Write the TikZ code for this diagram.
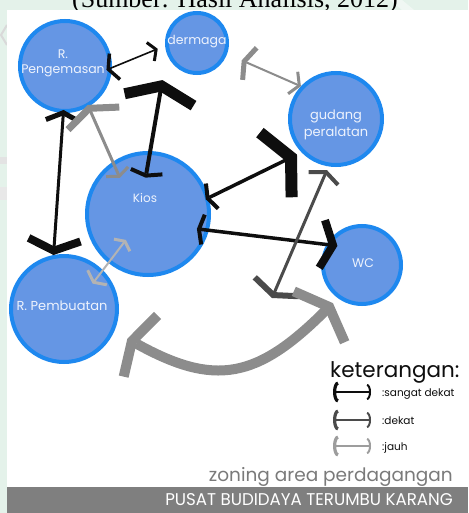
\documentclass[tikz,border=0pt]{standalone}
\usepackage{fontspec}
\setmainfont{Poppins}
\newfontfamily\capfont{Liberation Serif}
\usetikzlibrary{arrows.meta}

\definecolor{mint}{HTML}{E4F2EA}
\definecolor{zonefill}{HTML}{6596E4}
\definecolor{zoneedge}{HTML}{1E88EF}
\definecolor{ink}{HTML}{0E0E0E}
\definecolor{midgray}{HTML}{4B4B4B}
\definecolor{farcol}{HTML}{8C8C8C}
\definecolor{palegray}{HTML}{B3B3B3}
\definecolor{barcol}{HTML}{7F7F7F}
\definecolor{titlegray}{HTML}{7A7A7A}
\definecolor{zonetext}{HTML}{EEF3FD}

\begin{document}
\begin{tikzpicture}[x=1pt,y=-1pt,
  zone/.style={circle,draw=zoneedge,fill=zonefill,line width=4pt,inner sep=0pt,minimum size=#1},
  zlabel/.style={text=zonetext,font=\fontsize{12}{15}\selectfont,align=center,inner sep=0pt},
  link/.style={line width=#1},
  barbs/.style n args={6}{arrows={Straight Barb[length=#1,width=#2,line width=#3,sharp]-Straight Barb[length=#4,width=#5,line width=#6,sharp]}},
  keyarrow/.style={arrows={Arc Barb[length=5pt,width=21pt,line width=3.2pt]-Arc Barb[length=4pt,width=16pt,line width=2pt]},line width=1.5pt},
  keytext/.style={anchor=base west,inner sep=0pt,font=\fontsize{10.5}{12}\selectfont,text=ink}
]
\useasboundingbox (0,0) rectangle (468,513);
\clip (0,0) rectangle (468,513);

% page margin with faint watermark
\fill[mint] (0,0) rectangle (468,513);
\fill[white,opacity=0.45] (390,0) -- (402,0) -- (414,10) -- (402,10) -- cycle;
\draw[gray!30,line width=2pt] (7,25) -- (1,35) -- (7,45);
\fill[gray!22] (0,157) rectangle (7,164);
\fill[gray!18] (0,187) rectangle (7,200);
\node[anchor=base,inner sep=0pt,font=\capfont\fontsize{26}{30}\selectfont] (caption) at (235,7.5) {(Sumber: Hasil Analisis, 2012)};

% drawing sheet and title bar
\fill[white] (7,10) rectangle (468,487);
\fill[barcol] (7,487) rectangle (468,513);

% zones
\node[zone=90pt]  (rpeng)  at (65,66)   {};
\node[zone=60pt]  (derm)   at (197,43)  {};
\node[zone=92pt]  (gudang) at (336,119) {};
\node[zone=122pt] (kios)   at (148,214) {};
\node[zone=78pt]  (wc)     at (362,265) {};
\node[zone=106pt] (rpemb)  at (64,309)  {};

\node[zlabel,font=\fontsize{12.5}{15}\selectfont] (rpengtxt) at (63,63) {R.\\Pengemasan};
\node[zlabel,font=\fontsize{12.5}{15}\selectfont] (dermtxt) at (197,42) {dermaga};
\node[zlabel,font=\fontsize{13}{17}\selectfont] (gudangtxt) at (336,125) {gudang\\peralatan};
\node[zlabel] (kiostxt) at (145,198) {Kios};
\node[zlabel,font=\fontsize{12.5}{15}\selectfont] (wctxt) at (363,263) {WC};
\node[zlabel,font=\fontsize{13}{15}\selectfont] (rpembtxt) at (62,306) {R. Pembuatan};

% relations
\draw[ink,link=1.6pt,barbs={7pt}{28pt}{3.5pt}{6pt}{20pt}{3pt},shorten <=-6pt,shorten >=8pt]
  (rpeng.-2) -- (derm.185);
\draw[farcol,link=2pt,barbs={6pt}{35pt}{5pt}{7pt}{24pt}{3pt},shorten <=16pt]
  (derm.-20) -- (gudang.137);
\draw[ink,link=3pt,barbs={8pt}{34pt}{5pt}{11pt}{52pt}{8pt},shorten <=-3pt]
  (rpeng.-92) -- (rpemb.101.5);
\draw[farcol,link=3pt,barbs={11pt}{56pt}{7pt}{5pt}{24pt}{3pt},shorten <=-2pt,shorten >=-17.5pt]
  (rpeng.-60) -- (kios.124);
\draw[ink,link=4pt,barbs={4pt}{32pt}{4pt}{14pt}{70pt}{11pt},shorten <=-27pt,shorten >=26.5pt]
  (kios.88) -- (derm.200);
\draw[ink,link=3.5pt,barbs={5pt}{28pt}{4pt}{17pt}{72pt}{12pt},shorten <=-3.5pt,shorten >=5pt]
  (kios.15.7) -- (gudang.224);
\draw[ink,link=3.5pt,barbs={4pt}{30pt}{4pt}{11pt}{48pt}{8pt},shorten <=-12pt,shorten >=-11pt]
  (kios.-15) -- (wc.150);
\coordinate (gudangfoot) at (272,298);
\draw[midgray,link=3pt,barbs={7pt}{32pt}{4pt}{9pt}{48pt}{6pt},shorten <=4pt]
  (gudang.-99) -- (gudangfoot);
\draw[palegray,link=2pt,barbs={5pt}{20pt}{3pt}{6pt}{24pt}{3pt},shorten <=-29pt,shorten >=-17pt]
  (kios.-129) -- (rpemb.45);
\draw[farcol,link=10pt,barbs={10pt}{70pt}{10pt}{14pt}{72pt}{10pt},shorten <=15pt,shorten >=7pt]
  (rpemb.-24) to[out=-29,in=-135,looseness=1.3] (wc.-126);

% legend
\node[anchor=base west,inner sep=0pt,font=\fontsize{21.5}{24}\selectfont,text=ink] (keyhead) at (330,377) {keterangan:};
\coordinate (k1a) at (333,392); \coordinate (k1b) at (371,392);
\coordinate (k2a) at (333,420); \coordinate (k2b) at (371,420);
\coordinate (k3a) at (333,446); \coordinate (k3b) at (371,446);
\draw[keyarrow,ink] (k1a) -- (k1b);
\draw[keyarrow,midgray] (k2a) -- (k2b);
\draw[keyarrow,farcol!85] (k3a) -- (k3b);
\node[keytext] (k1t) at (382,396) {:sangat dekat};
\node[keytext] (k2t) at (382,424) {:dekat};
\node[keytext] (k3t) at (382,450) {:jauh};

% titles
\node[anchor=base east,inner sep=0pt,font=\fontsize{18.5}{20}\selectfont,text=titlegray] (zoning) at (453,481) {zoning area perdagangan};
\node[anchor=base east,inner sep=0pt,font=\fontsize{17}{20}\selectfont,text=white,xscale=0.98] (bartitle) at (453,505) {PUSAT BUDIDAYA TERUMBU KARANG};
\end{tikzpicture}
\end{document}
